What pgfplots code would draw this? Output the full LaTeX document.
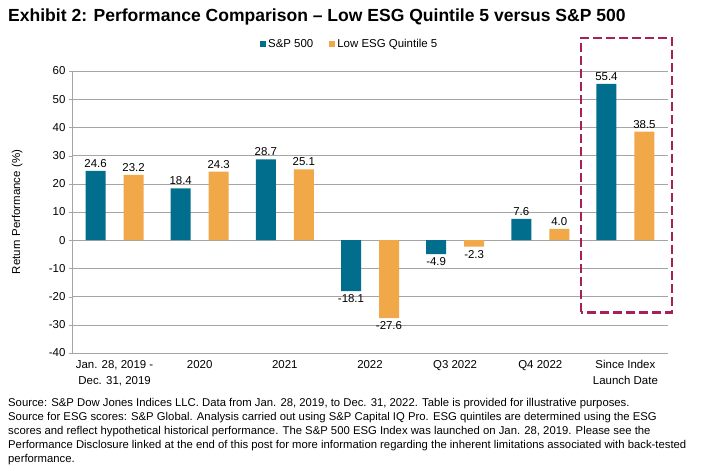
\documentclass[border=0pt]{standalone}
\usepackage{fontspec}
\setmainfont{Liberation Sans}
\usepackage{pgfplots}
\pgfplotsset{compat=1.18}
\definecolor{spteal}{RGB}{0,110,140}
\definecolor{esgorange}{RGB}{240,168,72}
\definecolor{boxred}{RGB}{168,32,88}
\definecolor{gridgray}{RGB}{165,165,165}

\begin{document}
\begin{tikzpicture}
\useasboundingbox (0,0) rectangle (724bp,471bp);
\node[anchor=west, inner sep=0pt, font=\fontsize{17.6}{21}\selectfont\bfseries] at (8bp,454bp)
  {Exhibit 2: Performance Comparison – Low ESG Quintile 5 versus S\&P 500};
\begin{axis}[
  at={(72bp,118bp)}, anchor=south west,
  scale only axis, width=596bp, height=282bp,
  ybar=18bp, bar width=20bp,
  xmin=-0.5, xmax=6.5, ymin=-40, ymax=60,
  ytick={-40,-30,...,60},
  xtick={0,...,6},
  xticklabels={{Jan. 28, 2019 -\\Dec. 31, 2019},2020,2021,2022,Q3 2022,Q4 2022,{Since Index\\Launch Date}},
  xticklabel style={align=center, font=\fontsize{11.5}{16}\selectfont, yshift=-1bp},
  yticklabel style={font=\fontsize{11.5}{13}\selectfont},
  /pgf/number format/assume math mode=true,
  axis y line*=left, axis x line*=bottom,
  axis line style={gridgray, -},
  x axis line style={draw=none},
  major x tick style={draw=none},
  major y tick style={gridgray},
  tick align=outside, major tick length=3bp,
  ymajorgrids, grid style={gridgray, line width=0.6pt},
  ylabel={Return Performance (\%)},
  ylabel style={font=\fontsize{11.5}{13}\selectfont, at={(axis description cs:-0.092,0.5)}, anchor=center},
  nodes near coords,
  nodes near coords style={font=\fontsize{11.5}{13}\selectfont, /pgf/number format/.cd, fixed, fixed zerofill, precision=1, assume math mode=true},
  legend columns=2,
  legend style={at={(0.466,1.096)}, anchor=center, draw=none, fill=none,
    font=\fontsize{11.5}{13}\selectfont, /tikz/every even column/.append style={column sep=14bp}},
  legend image code/.code={\fill (0bp,-3bp) rectangle (6bp,3bp);},
  clip=false,
]
\addplot[fill=spteal, draw=none] coordinates {(0,24.6) (1,18.4) (2,28.7) (3,-18.1) (4,-4.9) (5,7.6) (6,55.4)};
\addplot[fill=esgorange, draw=none] coordinates {(0,23.2) (1,24.3) (2,25.1) (3,-27.6) (4,-2.3) (5,4.0) (6,38.5)};
\legend{S\&P 500, Low ESG Quintile 5}
\draw[boxred, line width=2.8pt, dash pattern=on 9bp off 4bp] (axis cs:5.478,-25.5) rectangle (axis cs:6.547,71.7);
\end{axis}
\node[anchor=north west, inner sep=0pt, align=left, font=\fontsize{11.35}{14}\selectfont] at (8bp,73bp)
  {Source: S\&P Dow Jones Indices LLC. Data from Jan. 28, 2019, to Dec. 31, 2022. Table is provided for illustrative purposes.\\
   Source for ESG scores: S\&P Global. Analysis carried out using S\&P Capital IQ Pro. ESG quintiles are determined using the ESG\\
   scores and reflect hypothetical historical performance. The S\&P 500 ESG Index was launched on Jan. 28, 2019. Please see the\\
   Performance Disclosure linked at the end of this post for more information regarding the inherent limitations associated with back-tested\\
   performance.};
\end{tikzpicture}
\end{document}
